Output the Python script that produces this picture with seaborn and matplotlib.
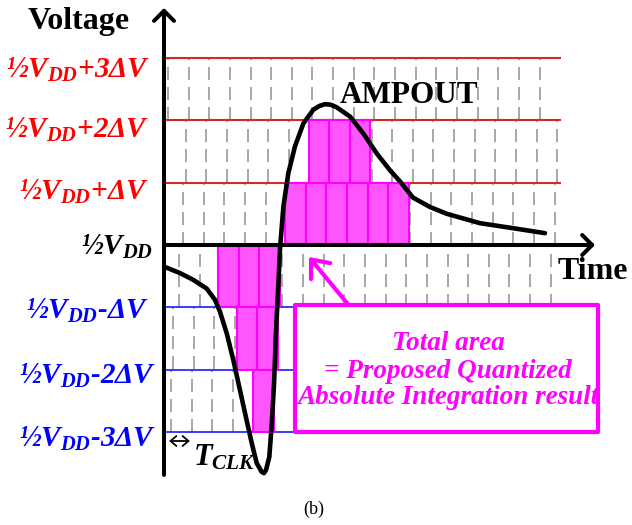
import matplotlib
matplotlib.use("Agg")
import matplotlib.pyplot as plt
from matplotlib.patches import Rectangle
import numpy as np
import pandas as pd
import seaborn as sns

# AMPOUT waveform: time in clock periods (T_CLK), voltage in units of ΔV above ½VDD
amp_t = [0.10, 0.77, 1.42, 2.07, 2.47, 2.71, 3.04, 3.36, 3.68, 4.00, 4.25, 4.49,
         4.73, 4.84, 4.94, 5.10, 5.22, 5.33, 5.42, 5.54, 5.62, 5.78, 6.02, 6.34,
         6.75, 7.23, 7.52, 7.80, 8.08, 8.36, 9.01, 9.65, 10.30, 10.94, 11.43, 12.06,
         12.88, 13.70, 15.30, 16.90, 18.45]
amp_v = [-0.36, -0.45, -0.56, -0.70, -0.88, -1.07, -1.42, -1.85, -2.33, -2.81, -3.18, -3.50,
         -3.64, -3.66, -3.61, -3.40, -2.86, -2.22, -1.42, -0.61, -0.05, 0.61, 1.15, 1.58,
         1.95, 2.17, 2.23, 2.26, 2.25, 2.21, 2.06, 1.79, 1.47, 1.20, 1.02, 0.76,
         0.61, 0.50, 0.35, 0.27, 0.19]

# Quantized area: one row of unit cells (1 T_CLK x 1 ΔV) per level
row_level = [1, 2, -1, -2, -3]
row_start = [5.86, 7.0, 2.62, 3.52, 4.32]
row_cells = [6, 3, 3, 2, 1]
cell_width = 1.0

# Reference voltage levels
levels = [3, 2, 1, 0, -1, -2, -3]
level_text = [r"½$V_{DD}$+3ΔV", r"½$V_{DD}$+2ΔV", r"½$V_{DD}$+ΔV", r"½$V_{DD}$",
              r"½$V_{DD}$-ΔV", r"½$V_{DD}$-2ΔV", r"½$V_{DD}$-3ΔV"]

# Clock grid: each band between level b and b+1 has its own tick phase and count
band_bottom = [2, 1, 0, -1, -2, -3]
band_phase = [0.19, 0.05, 0.92, 0.73, 0.44, 0.34]
band_ticks = [19, 20, 19, 19, 19, 19]

# One clock period marker
tclk_start = 0.25

sns.set_theme(style="white")
plt.rcParams["font.family"] = ["Liberation Serif", "DejaVu Serif"]
plt.rcParams["text.color"] = "black"
plt.rcParams["mathtext.fontset"] = "custom"
plt.rcParams["mathtext.it"] = "Liberation Serif:italic:bold"
plt.rcParams["mathtext.rm"] = "Liberation Serif:italic:bold"
plt.rcParams["mathtext.bf"] = "Liberation Serif:italic:bold"
plt.rcParams["lines.scale_dashes"] = False

RED_TXT, RED_LINE = "#FF0000", "#D22A2A"
BLUE_TXT, BLUE_LINE = "#0000FF", "#1A1AFF"
MAG, MAG_FILL = "#FF00FF", "#FF55FF"

PX, PY = 20.65, 62.33          # pixels per clock period / per ΔV
X0, Y0 = 164, 245              # origin location in the 632x525 canvas
W, H = 632, 525

fig = plt.figure(figsize=(W / 100, H / 100), dpi=100)
ax = fig.add_axes([0, 0, 1, 1])
ax.set_xlim(-X0 / PX, (W - X0) / PX)
ax.set_ylim((Y0 - H) / PY, Y0 / PY)
ax.set_axis_off()


def px(x, y):
    """canvas pixel -> data coordinates"""
    return (x - X0) / PX, (Y0 - y) / PY


# dashed clock grid
for b, ph, n in zip(band_bottom, band_phase, band_ticks):
    xs = ph + np.arange(n)
    ax.vlines(xs, b + 1, b, colors="#8f8f8f", linewidth=1.1,
              linestyles=[(7.9, (9.4, 5.0))], zorder=1)

# level lines
line_end = px(561, 0)[0]
for lv in levels:
    if lv > 0:
        ax.hlines(lv, 0, line_end, colors=RED_LINE, linewidth=1.5, zorder=2)
    elif lv < 0:
        ax.hlines(lv, 0, line_end, colors=BLUE_LINE, linewidth=1.2, zorder=2)

# quantized cells
cells = []
for lv, s, n in zip(row_level, row_start, row_cells):
    sgn = 1 if lv > 0 else -1
    for k in range(n):
        cells.append({"t": s + k * cell_width, "bottom": lv - sgn, "height": sgn})
cells = pd.DataFrame(cells)
ax.bar(cells["t"], cells["height"], width=cell_width, bottom=cells["bottom"],
       align="edge", color=MAG_FILL, edgecolor=MAG, linewidth=1.5, zorder=3)

# annotation box (white fill below text, outline on top)
bx0, by0 = px(295, 432)
bx1, by1 = px(598, 305)
ax.add_patch(Rectangle((bx0, by0), bx1 - bx0, by1 - by0, facecolor="white",
                       edgecolor="none", zorder=4))
ax.add_patch(Rectangle((bx0, by0), bx1 - bx0, by1 - by0, facecolor="none",
                       edgecolor=MAG, linewidth=3.0, joinstyle="round", zorder=8))
box_lines = ["Total area", "= Proposed Quantized", "Absolute Integration result"]
for txt, yb in zip(box_lines, [350, 378, 404]):
    tx, ty = px(448, yb)
    ax.text(tx, ty, txt, color=MAG, fontsize=19.5, fontweight="bold",
            fontstyle="italic", ha="center", va="baseline", zorder=6)

# pointer from the box to the cells
ax.annotate("", xy=px(309, 257), xytext=px(347, 303),
            arrowprops=dict(arrowstyle="->,head_length=0.9,head_width=0.75",
                            color=MAG, lw=3.0, shrinkA=0, shrinkB=0),
            zorder=9)

# axes with open arrow heads
ax.annotate("", xy=px(164, 8), xytext=px(164, 475),
            arrowprops=dict(arrowstyle="->,head_length=0.6,head_width=0.6",
                            color="black", lw=2.9, shrinkA=0, shrinkB=0),
            zorder=5)
ax.annotate("", xy=px(595, 245), xytext=px(164, 245),
            arrowprops=dict(arrowstyle="->,head_length=0.6,head_width=0.6",
                            color="black", lw=2.9, shrinkA=0, shrinkB=0),
            zorder=5)

# AMPOUT waveform
sns.lineplot(x=amp_t, y=amp_v, sort=False, color="black", linewidth=3.3,
             legend=False, ax=ax, zorder=7)

# level labels
label_color = [RED_TXT] * 3 + ["black"] + [BLUE_TXT] * 3
label_dx = [-14, -15, -15, -11, -15, -8, -8]
label_dy = [-20, -17, -17, -10, -11, -14, -15]
for lv, txt, c, dx, dy in zip(levels, level_text, label_color, label_dx, label_dy):
    ax.annotate(txt, xy=(0, lv), xytext=(dx, dy), textcoords="offset pixels",
                ha="right", va="baseline", color=c, fontsize=21,
                fontweight="bold", fontstyle="italic", annotation_clip=False)

# titles
ax.text(*px(28, 29), "Voltage", fontsize=23, fontweight="bold",
        ha="left", va="baseline")
ax.text(*px(558, 279), "Time", fontsize=23, fontweight="bold",
        ha="left", va="baseline")
ax.text(*px(340, 103), "AMPOUT", fontsize=22.5, fontweight="bold",
        ha="left", va="baseline", zorder=9)

# clock period marker
ty = px(0, 441)[1]
ax.annotate("", xy=(tclk_start + cell_width, ty), xytext=(tclk_start, ty),
            arrowprops=dict(arrowstyle="<->,head_length=0.35,head_width=0.3",
                            color="black", lw=1.3, shrinkA=0, shrinkB=0))
ax.text(*px(193, 466), r"$T_{CLK}$", fontsize=22, ha="left", va="baseline")

ax.text(*px(314, 514), "(b)", fontsize=13, ha="center", va="baseline")

fig.savefig("out.png", dpi=100)
